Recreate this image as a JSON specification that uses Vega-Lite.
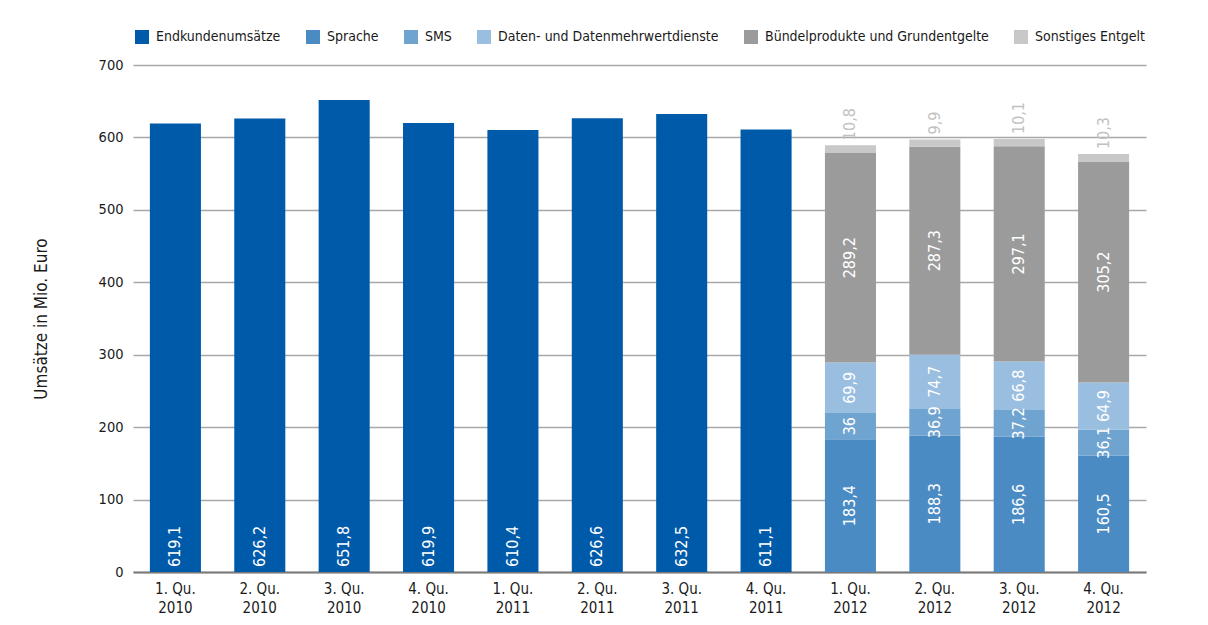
{
  "$schema": "https://vega.github.io/schema/vega-lite/v6.json",
  "autosize": {"type": "none"},
  "width": 1013,
  "height": 507,
  "padding": {"left": 133, "top": 65, "right": 62, "bottom": 53},
  "background": "white",
  "config": {
    "font": "DejaVu Sans Condensed",
    "view": {"stroke": null},
    "locale": {"number": {"decimal": ",", "thousands": ".", "grouping": [3], "currency": ["", " €"]}}
  },
  "data": {
    "values": [
      {"q": "1. Qu. 2010", "cat": "Endkundenumsätze", "k": 0, "v": 619.1},
      {"q": "2. Qu. 2010", "cat": "Endkundenumsätze", "k": 0, "v": 626.2},
      {"q": "3. Qu. 2010", "cat": "Endkundenumsätze", "k": 0, "v": 651.8},
      {"q": "4. Qu. 2010", "cat": "Endkundenumsätze", "k": 0, "v": 619.9},
      {"q": "1. Qu. 2011", "cat": "Endkundenumsätze", "k": 0, "v": 610.4},
      {"q": "2. Qu. 2011", "cat": "Endkundenumsätze", "k": 0, "v": 626.6},
      {"q": "3. Qu. 2011", "cat": "Endkundenumsätze", "k": 0, "v": 632.5},
      {"q": "4. Qu. 2011", "cat": "Endkundenumsätze", "k": 0, "v": 611.1},
      {"q": "1. Qu. 2012", "cat": "Sprache", "k": 1, "v": 183.4},
      {"q": "1. Qu. 2012", "cat": "SMS", "k": 2, "v": 36},
      {"q": "1. Qu. 2012", "cat": "Daten- und Datenmehrwertdienste", "k": 3, "v": 69.9},
      {"q": "1. Qu. 2012", "cat": "Bündelprodukte und Grundentgelte", "k": 4, "v": 289.2},
      {"q": "1. Qu. 2012", "cat": "Sonstiges Entgelt", "k": 5, "v": 10.8},
      {"q": "2. Qu. 2012", "cat": "Sprache", "k": 1, "v": 188.3},
      {"q": "2. Qu. 2012", "cat": "SMS", "k": 2, "v": 36.9},
      {"q": "2. Qu. 2012", "cat": "Daten- und Datenmehrwertdienste", "k": 3, "v": 74.7},
      {"q": "2. Qu. 2012", "cat": "Bündelprodukte und Grundentgelte", "k": 4, "v": 287.3},
      {"q": "2. Qu. 2012", "cat": "Sonstiges Entgelt", "k": 5, "v": 9.9},
      {"q": "3. Qu. 2012", "cat": "Sprache", "k": 1, "v": 186.6},
      {"q": "3. Qu. 2012", "cat": "SMS", "k": 2, "v": 37.2},
      {"q": "3. Qu. 2012", "cat": "Daten- und Datenmehrwertdienste", "k": 3, "v": 66.8},
      {"q": "3. Qu. 2012", "cat": "Bündelprodukte und Grundentgelte", "k": 4, "v": 297.1},
      {"q": "3. Qu. 2012", "cat": "Sonstiges Entgelt", "k": 5, "v": 10.1},
      {"q": "4. Qu. 2012", "cat": "Sprache", "k": 1, "v": 160.5},
      {"q": "4. Qu. 2012", "cat": "SMS", "k": 2, "v": 36.1},
      {"q": "4. Qu. 2012", "cat": "Daten- und Datenmehrwertdienste", "k": 3, "v": 64.9},
      {"q": "4. Qu. 2012", "cat": "Bündelprodukte und Grundentgelte", "k": 4, "v": 305.2},
      {"q": "4. Qu. 2012", "cat": "Sonstiges Entgelt", "k": 5, "v": 10.3}
    ]
  },
  "encoding": {
    "x": {
      "field": "q", "type": "nominal", "sort": null,
      "scale": {"paddingInner": 0.395, "paddingOuter": 0.2},
      "axis": {
        "title": null, "labelAngle": 0, "ticks": false,
        "domain": true, "domainColor": "#7a7a7a", "domainWidth": 2,
        "labelFont": "DejaVu Sans Condensed",
        "labelFontSize": 15, "labelColor": "#1a1a1a", "labelPadding": 9,
        "labelLineHeight": 19, "labelBaseline": "top",
        "labelExpr": "[slice(datum.label, 0, 6), slice(datum.label, 7)]"
      }
    }
  },
  "layer": [
    {
      "mark": {"type": "bar"},
      "encoding": {
        "y": {
          "field": "v", "type": "quantitative", "stack": "zero",
          "scale": {"domain": [0, 700], "nice": false},
          "axis": {
            "title": "Umsätze in Mio. Euro", "titleFontWeight": "normal", "titleFontSize": 17,
            "titleColor": "#1a1a1a", "titlePadding": 48,
            "values": [0, 100, 200, 300, 400, 500, 600, 700],
            "grid": true, "gridColor": "#a8a8a8", "gridWidth": 1.5,
            "domain": false, "ticks": false, "labelPadding": 10,
            "labelFontSize": 14.5, "labelColor": "#1a1a1a"
          }
        },
        "color": {
          "field": "cat", "type": "nominal",
          "scale": {
            "domain": ["Endkundenumsätze", "Sprache", "SMS", "Daten- und Datenmehrwertdienste", "Bündelprodukte und Grundentgelte", "Sonstiges Entgelt"],
            "range": ["#005aaa", "#4a8bc4", "#6fa3d0", "#9abee0", "#9b9b9b", "#c8c8c8"]
          },
          "legend": {
            "title": null, "orient": "none", "legendX": 2, "legendY": -35,
            "direction": "horizontal", "symbolType": "square", "symbolSize": 196,
            "symbolStrokeWidth": 0, "labelFontSize": 14, "labelColor": "#1a1a1a",
            "labelLimit": 400, "columnPadding": 25, "labelOffset": 7
          }
        },
        "order": {"field": "k", "type": "quantitative"}
      }
    },
    {
      "transform": [{"filter": "datum.k >= 1 && datum.k <= 4"}],
      "mark": {"type": "text", "angle": 270, "align": "center", "baseline": "middle", "fill": "white", "fontSize": 16},
      "encoding": {
        "y": {"field": "v", "type": "quantitative", "stack": "zero", "bandPosition": 0.5},
        "detail": {"field": "cat"},
        "order": {"field": "k", "type": "quantitative"},
        "text": {"field": "v", "type": "quantitative", "format": ".1~f"}
      }
    },
    {
      "transform": [{"filter": "datum.k == 0"}],
      "mark": {"type": "text", "angle": 270, "align": "left", "baseline": "middle", "fill": "white", "fontSize": 16, "dx": 5},
      "encoding": {
        "y": {"field": "v", "type": "quantitative", "stack": "zero", "bandPosition": 0},
        "text": {"field": "v", "type": "quantitative", "format": ".1~f"}
      }
    },
    {
      "transform": [{"filter": "datum.k >= 1"}],
      "mark": {"type": "text", "angle": 270, "align": "left", "baseline": "middle", "fill": "#c2c2c2", "fontSize": 16, "dx": 5},
      "encoding": {
        "y": {"field": "v", "type": "quantitative", "stack": "zero"},
        "detail": {"field": "cat"},
        "order": {"field": "k", "type": "quantitative"},
        "text": {
          "condition": {"test": "datum.k != 5", "value": ""},
          "field": "v", "type": "quantitative", "format": ".1~f"
        }
      }
    }
  ]
}
